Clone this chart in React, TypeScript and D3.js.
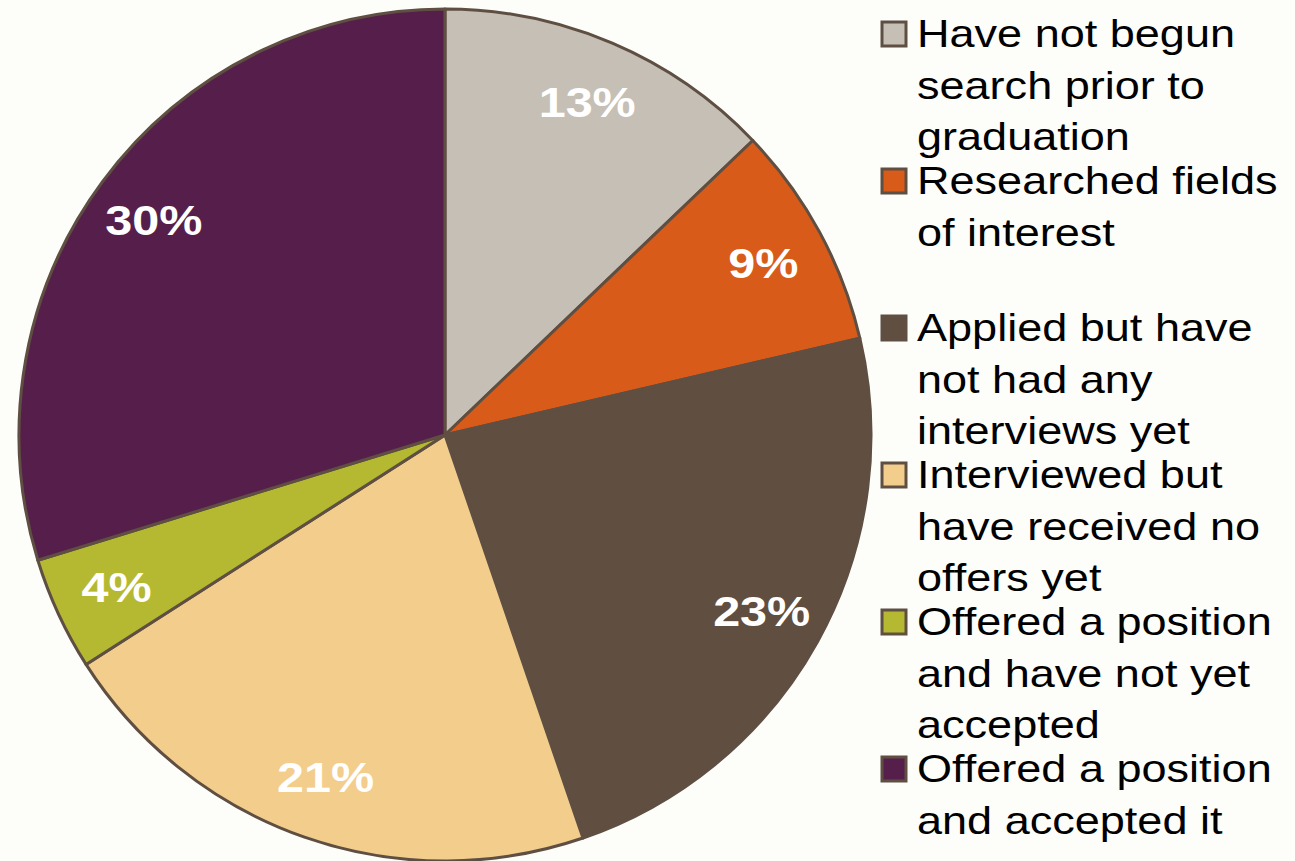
import React from 'react';
import * as d3 from 'd3';

const categories = [
  ['Have not begun', 'search prior to', 'graduation'],
  ['Researched fields', 'of interest'],
  ['Applied but have', 'not had any', 'interviews yet'],
  ['Interviewed but', 'have received no', 'offers yet'],
  ['Offered a position', 'and have not yet', 'accepted'],
  ['Offered a position', 'and accepted it'],
];
const shares = [12.85, 8.5, 23.4, 21.2, 4.3, 29.75];
const colors = ['#c6bfb5', '#d95b1a', '#604e40', '#f3cd8c', '#b5b932', '#561f4b'];

const W = 1295;
const H = 861;
const cx = 445;
const cy = 435;
const radius = 426;
const edge = '#5f4f42';
// the source is stretched a bit wider than tall
const sx = 1.155;

export default function App() {
  const pie = d3.pie<number>().sort(null).value(d => d);
  const slices = pie(shares);
  const arc = d3.arc<d3.PieArcDatum<number>>().innerRadius(0).outerRadius(radius);
  const labelArc = d3.arc<d3.PieArcDatum<number>>().innerRadius(362).outerRadius(362);

  return (
    <svg width={W} height={H} style={{position: 'absolute', left: 0, top: 0, background: '#fdfefa'}}
      fontFamily="'Liberation Sans', Arial, sans-serif">
      <rect width={W} height={H} fill="#fdfefa" />
      <g transform={`translate(${cx},${cy})`}>
        {slices.map((s, i) => (
          <path key={i} d={arc(s) || ''} fill={colors[i]} stroke={edge} strokeWidth={3} strokeLinejoin="round" />
        ))}
        {slices.map((s, i) => {
          const [x, y] = labelArc.centroid(s);
          return (
            <text key={i} transform={`translate(${x},${y}) scale(${sx},1)`} dy="0.36em" textAnchor="middle" fill="#fff"
              fontWeight="bold" fontSize={42}>{Math.round(s.data)}%</text>
          );
        })}
      </g>
      <g>
        {categories.map((lines, i) => {
          const base = 47 + i * 147;
          return (
            <g key={i}>
              <rect x={882} y={base - 25} width={24} height={24} fill={colors[i]} stroke={edge} strokeWidth={3} />
              {lines.map((t, j) => (
                <text key={j} transform={`translate(917,${base + j * 51.5}) scale(${sx},1)`} fontSize={39} fill="#000">{t}</text>
              ))}
            </g>
          );
        })}
      </g>
    </svg>
  );
}
